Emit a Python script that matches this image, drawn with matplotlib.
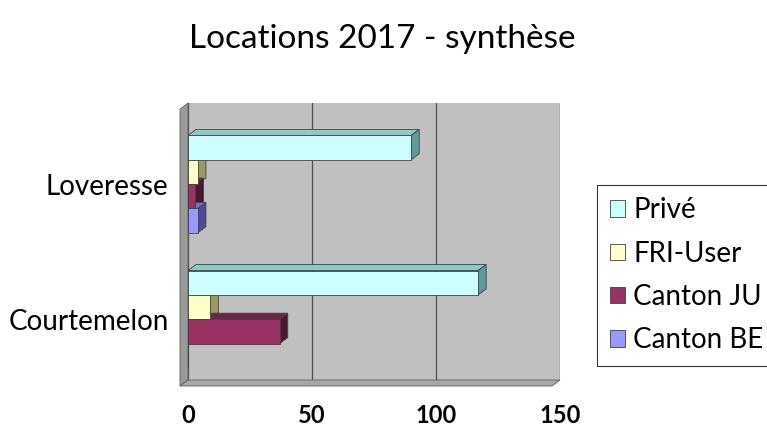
import numpy as np
import matplotlib.pyplot as plt
from matplotlib.patches import Polygon, Patch

plt.rcParams['font.family'] = ['Lato', 'DejaVu Sans']

# data
sites = ['Courtemelon', 'Loveresse']
series = ['Privé', 'FRI-User', 'Canton JU', 'Canton BE']
values = {
    'Privé': [117, 90],
    'FRI-User': [9, 4],
    'Canton JU': [37, 3],
    'Canton BE': [0, 4],
}
face_colors = ['#ccffff', '#ffffcc', '#993366', '#9999ff']
side_colors = ['#5f9a9a', '#9a9a66', '#4a1630', '#4c4c99']
top_colors = ['#8fc8c8', '#c8c88f', '#6e2449', '#7373c8']

W, H = 767, 430
fig = plt.figure(figsize=(W / 100, H / 100), dpi=100)
ax = fig.add_axes([188 / W, (H - 380) / H, (560 - 188) / W, (380 - 103) / H])
ax.set_facecolor('#c0c0c0')

xmax = 150
ylo, yhi = -0.45, 1.6
ax.set_xlim(0, xmax)
ax.set_ylim(ylo, yhi)

# depth of the 3d look, in pixels, turned into data units
px_x = (560 - 188) / xmax
px_y = (380 - 103) / (yhi - ylo)
dx = 8 / px_x
dy = 6 / px_y

h = 0.18
offsets = [1.5 * h, 0.5 * h, -0.5 * h, -1.5 * h]
y = np.arange(len(sites))

for i, name in enumerate(series):
    vals = values[name]
    yy = y + offsets[i]
    ax.barh(yy, vals, height=h, color=face_colors[i], edgecolor='#404040',
            linewidth=0.6, zorder=3)
    for v, yc in zip(vals, yy):
        if v <= 0:
            continue
        top = yc + h / 2
        bot = yc - h / 2
        # top face
        ax.add_patch(Polygon([(0, top), (v, top), (v + dx, top + dy), (dx, top + dy)],
                             closed=True, facecolor=top_colors[i], edgecolor='#404040',
                             linewidth=0.6, zorder=2))
        # right side face
        ax.add_patch(Polygon([(v, bot), (v, top), (v + dx, top + dy), (v + dx, bot + dy)],
                             closed=True, facecolor=side_colors[i], edgecolor='#404040',
                             linewidth=0.6, zorder=2))

# left wall and floor
ax.add_patch(Polygon([(0, ylo), (0, yhi), (-dx, yhi - dy), (-dx, ylo - dy)],
                     closed=True, facecolor='#9a9a9a', edgecolor='#606060',
                     linewidth=0.6, clip_on=False, zorder=1))
ax.add_patch(Polygon([(0, ylo), (xmax, ylo), (xmax - dx, ylo - dy), (-dx, ylo - dy)],
                     closed=True, facecolor='#a8a8a8', edgecolor='#606060',
                     linewidth=0.6, clip_on=False, zorder=1))

ax.set_xticks([0, 50, 100, 150])
ax.xaxis.grid(True, color='#505050', linewidth=0.9, zorder=0)
ax.set_axisbelow(True)
ax.tick_params(axis='x', length=0, pad=17, labelsize=17)
for lbl in ax.get_xticklabels():
    lbl.set_fontweight('bold')
ax.set_yticks(y)
ax.set_yticklabels(sites, fontsize=20)
ax.tick_params(axis='y', length=0, pad=14)
for s in ax.spines.values():
    s.set_visible(False)

fig.suptitle('Locations 2017 - synthèse', fontsize=24, x=382 / W, y=1 - 24 / H, va='top')

handles = [Patch(facecolor=c, edgecolor='#404040', linewidth=0.6) for c in face_colors]
leg = fig.legend(handles, series, loc='upper left', bbox_to_anchor=(597 / W, 1 - 185 / H),
                 fontsize=20, frameon=True, fancybox=False, edgecolor='black',
                 handlelength=0.55, handleheight=0.55, handletextpad=0.3,
                 labelspacing=0.62, borderpad=0.45, borderaxespad=0)
leg.get_frame().set_linewidth(0.8)

fig.savefig('out.png', dpi=100)
